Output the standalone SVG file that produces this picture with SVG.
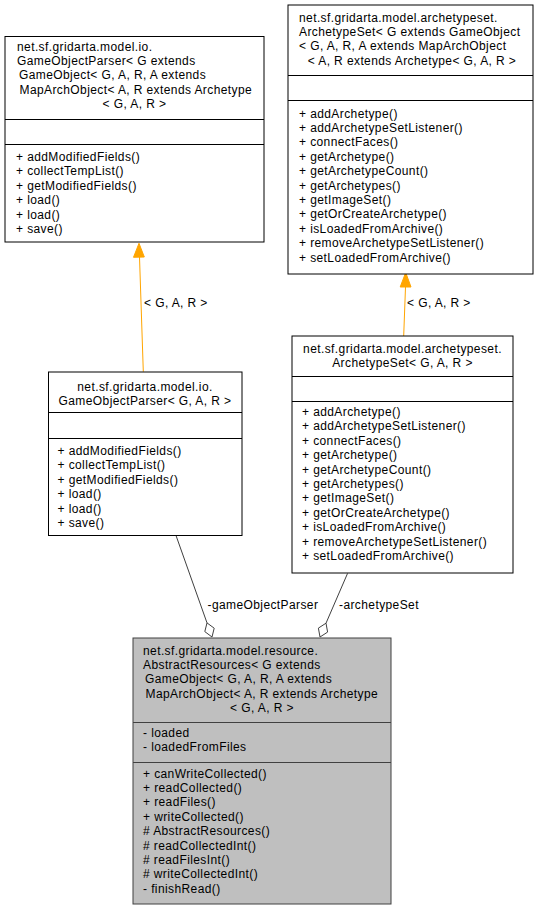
<svg xmlns="http://www.w3.org/2000/svg" width="538" height="911" viewBox="0 0 538 911">
<style>
text{font-family:"Liberation Sans",Arial,Helvetica,sans-serif;font-size:12px;letter-spacing:0.4px;fill:#000}
.c{text-anchor:middle}
.box{fill:#fff;stroke:#000;stroke-width:1}
.focus{fill:#bfbfbf;stroke:#404040;stroke-width:1}
.div{stroke:#000;stroke-width:1}
.fdiv{stroke:#404040;stroke-width:1}
.inh{stroke:#ffa500;stroke-width:1;fill:none}
.inhhead{fill:#ffa500;stroke:#ffa500}
.use{stroke:#404040;stroke-width:1;fill:none}
.dia{fill:#fff;stroke:#404040;stroke-width:1}
</style>
<rect width="538" height="911" fill="#fff"/>
<g id="edges">
<path class="inh" d="M143.3,371.7 L139.5,257"/>
<polygon class="inhhead" points="139,243.3 133.5,257.3 144.3,257"/>
<text x="144" y="307">&lt; G, A, R &gt;</text>
<path class="inh" d="M403.7,336 L405.5,287"/>
<polygon class="inhhead" points="405.7,272.5 400.2,287 411,287"/>
<text x="407" y="307">&lt; G, A, R &gt;</text>
<path class="use" d="M176,535.5 L207,622.9"/>
<polygon class="dia" points="212,637 214.2,628.2 207,622.9 204.8,631.6"/>
<text x="207.5" y="608.5">-gameObjectParser</text>
<path class="use" d="M347.5,573.5 L326,623.2"/>
<polygon class="dia" points="320,637 327.6,632.1 326,623.2 318.4,628.1"/>
<text x="339" y="608.5">-archetypeSet</text>
</g>
<g id="node_io_generic">
<rect class="box" x="5" y="36.5" width="259" height="205.5"/>
<text x="17" y="50.5">net.sf.gridarta.model.io.</text>
<text x="17" y="65">GameObjectParser&lt; G extends</text>
<text x="19" y="79.3">GameObject&lt; G, A, R, A extends</text>
<text x="19.5" y="93.7">MapArchObject&lt; A, R extends Archetype</text>
<text class="c" x="134.5" y="108">&lt; G, A, R &gt;</text>
<line class="div" x1="5" y1="119.5" x2="264" y2="119.5"/>
<line class="div" x1="5" y1="144.5" x2="264" y2="144.5"/>
<text x="16" y="161">+ addModifiedFields()</text>
<text x="16" y="175.4">+ collectTempList()</text>
<text x="16" y="189.8">+ getModifiedFields()</text>
<text x="16" y="204.2">+ load()</text>
<text x="16" y="218.6">+ load()</text>
<text x="16" y="233">+ save()</text>
</g>
<g id="node_archetypeset_generic">
<rect class="box" x="288" y="5" width="245" height="269"/>
<text x="299" y="21.5">net.sf.gridarta.model.archetypeset.</text>
<text x="299" y="36">ArchetypeSet&lt; G extends GameObject</text>
<text x="299" y="50.3">&lt; G, A, R, A extends MapArchObject</text>
<text class="c" x="412" y="64.7">&lt; A, R extends Archetype&lt; G, A, R &gt;</text>
<line class="div" x1="288" y1="75.5" x2="533" y2="75.5"/>
<line class="div" x1="288" y1="100.5" x2="533" y2="100.5"/>
<text x="299" y="117.5">+ addArchetype()</text>
<text x="299" y="131.9">+ addArchetypeSetListener()</text>
<text x="299" y="146.3">+ connectFaces()</text>
<text x="299" y="160.7">+ getArchetype()</text>
<text x="299" y="175.1">+ getArchetypeCount()</text>
<text x="299" y="189.5">+ getArchetypes()</text>
<text x="299" y="203.9">+ getImageSet()</text>
<text x="299" y="218.3">+ getOrCreateArchetype()</text>
<text x="299" y="232.7">+ isLoadedFromArchive()</text>
<text x="299" y="247.1">+ removeArchetypeSetListener()</text>
<text x="299" y="261.5">+ setLoadedFromArchive()</text>
</g>
<g id="node_io_parser">
<rect class="box" x="48.5" y="372" width="193.5" height="163.5"/>
<text class="c" x="145" y="390.5">net.sf.gridarta.model.io.</text>
<text class="c" x="145" y="404.9">GameObjectParser&lt; G, A, R &gt;</text>
<line class="div" x1="48.5" y1="412.5" x2="242" y2="412.5"/>
<line class="div" x1="48.5" y1="438.5" x2="242" y2="438.5"/>
<text x="57.5" y="455">+ addModifiedFields()</text>
<text x="57.5" y="469.4">+ collectTempList()</text>
<text x="57.5" y="483.8">+ getModifiedFields()</text>
<text x="57.5" y="498.2">+ load()</text>
<text x="57.5" y="512.6">+ load()</text>
<text x="57.5" y="527">+ save()</text>
</g>
<g id="node_archetypeset">
<rect class="box" x="292" y="336" width="221" height="237"/>
<text class="c" x="402.5" y="352.5">net.sf.gridarta.model.archetypeset.</text>
<text class="c" x="402.5" y="366.9">ArchetypeSet&lt; G, A, R &gt;</text>
<line class="div" x1="292" y1="376.5" x2="513" y2="376.5"/>
<line class="div" x1="292" y1="401.5" x2="513" y2="401.5"/>
<text x="302" y="416">+ addArchetype()</text>
<text x="302" y="430.4">+ addArchetypeSetListener()</text>
<text x="302" y="444.8">+ connectFaces()</text>
<text x="302" y="459.2">+ getArchetype()</text>
<text x="302" y="473.6">+ getArchetypeCount()</text>
<text x="302" y="488">+ getArchetypes()</text>
<text x="302" y="502.4">+ getImageSet()</text>
<text x="302" y="516.8">+ getOrCreateArchetype()</text>
<text x="302" y="531.2">+ isLoadedFromArchive()</text>
<text x="302" y="545.6">+ removeArchetypeSetListener()</text>
<text x="302" y="560">+ setLoadedFromArchive()</text>
</g>
<g id="node_abstract_resources">
<rect class="focus" x="133" y="638" width="258" height="266"/>
<text x="143" y="654.5">net.sf.gridarta.model.resource.</text>
<text x="143" y="668.9">AbstractResources&lt; G extends</text>
<text x="145" y="683.3">GameObject&lt; G, A, R, A extends</text>
<text x="145.5" y="697.7">MapArchObject&lt; A, R extends Archetype</text>
<text class="c" x="262" y="712.1">&lt; G, A, R &gt;</text>
<line class="fdiv" x1="133" y1="722.5" x2="391" y2="722.5"/>
<text x="143" y="737">- loaded</text>
<text x="143" y="751.4">- loadedFromFiles</text>
<line class="fdiv" x1="133" y1="762.5" x2="391" y2="762.5"/>
<text x="143" y="777.5">+ canWriteCollected()</text>
<text x="143" y="791.9">+ readCollected()</text>
<text x="143" y="806.3">+ readFiles()</text>
<text x="143" y="820.7">+ writeCollected()</text>
<text x="143" y="835.1"># AbstractResources()</text>
<text x="143" y="849.5"># readCollectedInt()</text>
<text x="143" y="863.9"># readFilesInt()</text>
<text x="143" y="878.3"># writeCollectedInt()</text>
<text x="143" y="892.7">- finishRead()</text>
</g>
</svg>
